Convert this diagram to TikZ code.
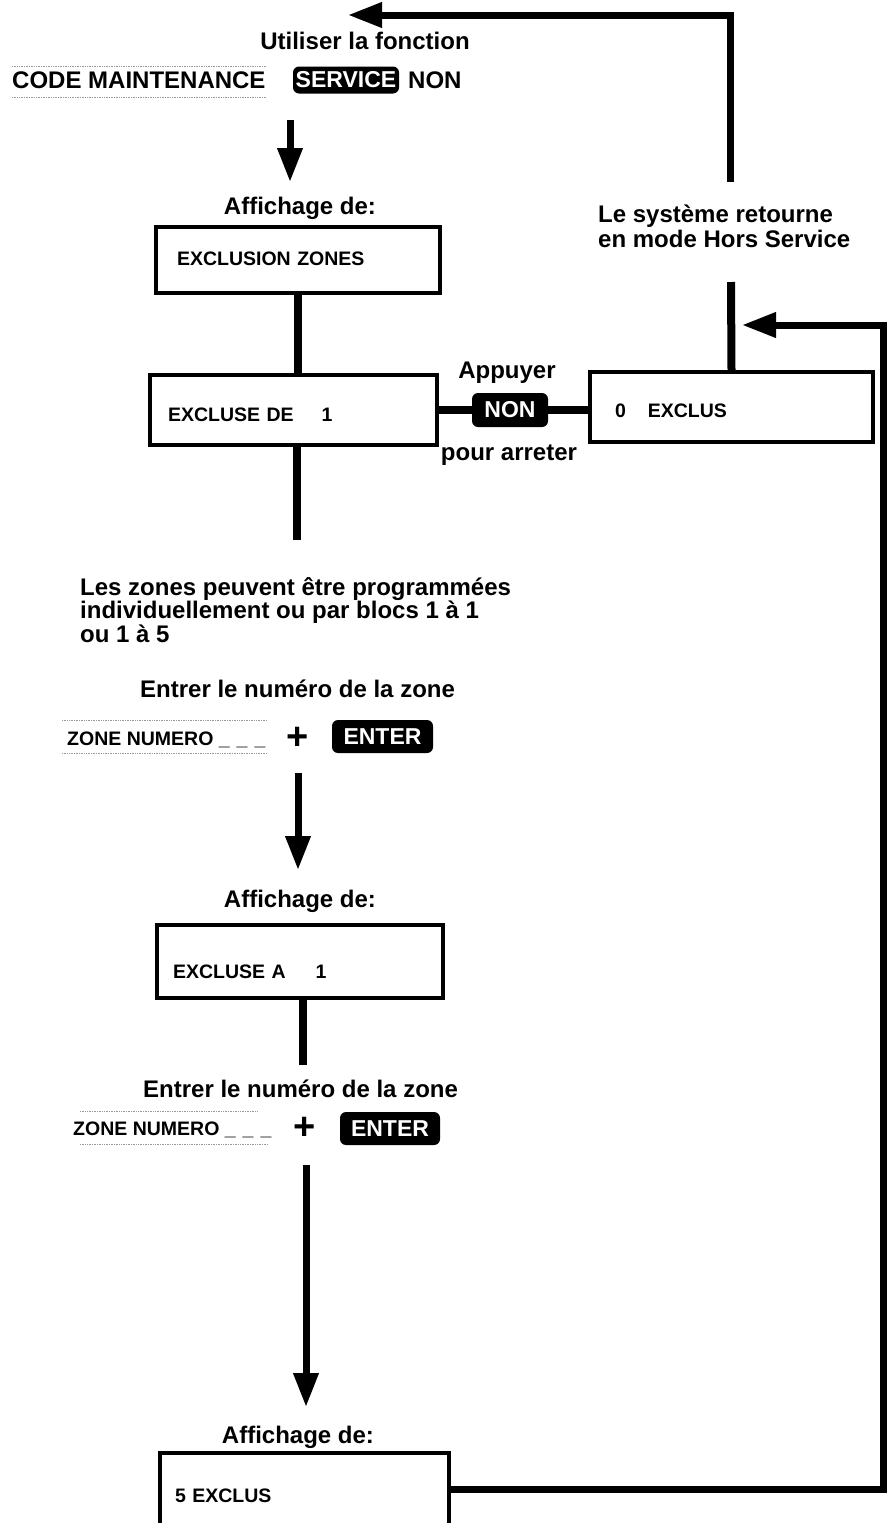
\documentclass[tikz,border=0pt]{standalone}
\usepackage{fontspec}
\setmainfont{Liberation Sans}
\usetikzlibrary{arrows.meta,positioning}
\tikzset{
    flowtext/.style={
        inner sep=0pt,
        font=\bfseries\fontsize{24}{25}\selectfont
    },
    displaytext/.style={
        inner sep=0pt,
        font=\bfseries\fontsize{19.5}{20}\selectfont
    },
    displaybox/.style={
        draw=black,
        line width=4pt,
        inner sep=0pt,
        align=left,
        font=\bfseries\fontsize{19.5}{20}\selectfont
    },
    keycap/.style={
        fill=black,
        text=white,
        rounded corners=6pt,
        inner sep=0pt,
        font=\bfseries\fontsize{23}{23}\selectfont
    },
    flowline/.style={
        draw=black,
        line width=8pt
    },
    flowarrow/.style={
        -{Triangle[length=34pt,width=24pt]},
        draw=black,
        line width=7pt
    },
    lcdedge/.style={
        draw=black!40,
        line width=0.7pt,
        densely dotted
    }
}

\begin{document}
\begin{tikzpicture}[x=1pt,y=-1pt]
    \useasboundingbox (0,0) rectangle (891,1523);

    \node[flowtext,anchor=base] (useFunction) at (365,49) {Utiliser la fonction};
    \node[flowtext,anchor=base west] (codeMaint) at (12,88) {CODE MAINTENANCE};
    \node[keycap,minimum width=106pt,minimum height=27pt] (serviceKey) at (346,80) {SERVICE};
    \node[flowtext,anchor=base west] (nonWord) at (408,88) {NON};
    \node[flowtext,anchor=base] (displayOne) at (300,214) {Affichage de:};

    \node[displaybox,minimum width=284pt,minimum height=66pt,text width=242pt,
        text height=12pt,text depth=2pt] (exclZones) at (298,260) {EXCLUSION ZONES};
    \node[displaybox,minimum width=287pt,minimum height=70pt,text width=251pt,
        text height=24pt,text depth=2pt] (exclDe) at (293.5,410) {EXCLUSE DE\hspace{28pt}1};
    \node[displaybox,minimum width=283pt,minimum height=70pt,text width=233pt,
        text height=22pt,text depth=2pt] (zeroExcl) at (731.5,407) {0\hspace{22pt}EXCLUS};

    \node[flowtext,anchor=north west,align=left] (systemReturns) at (598,205)
        {Le système retourne\\en mode Hors Service};
    \node[flowtext,anchor=base] (pressLabel) at (507,378) {Appuyer};
    \node[keycap,minimum width=76pt,minimum height=34pt] (nonKey) at (510,410) {NON};
    \node[flowtext,anchor=base] (stopLabel) at (509,460) {pour arreter};

    \node[flowtext,anchor=north west,align=left,
        font=\bfseries\fontsize{24}{23.5}\selectfont] (zoneProg) at (80,577)
        {Les zones peuvent être programmées\\individuellement ou par blocs 1 à 1\\ou 1 à 5};

    \node[flowtext,anchor=base west] (enterOne) at (140,697) {Entrer le numéro de la zone};
    \node[displaytext,anchor=base west] (zoneNumOne) at (67,745)
        {ZONE NUMERO \_\hspace{7pt}\_\hspace{7pt}\_};
    \node[flowtext,font=\bfseries\fontsize{38}{38}\selectfont] (plusOne) at (298,738) {+};
    \node[keycap,minimum width=101pt,minimum height=33pt] (enterKeyOne) at (382.5,736.5) {ENTER};

    \node[flowtext,anchor=base] (displayTwo) at (300,907) {Affichage de:};
    \node[displaybox,minimum width=286pt,minimum height=73pt,text width=254pt,
        text height=35pt,text depth=2pt] (exclA) at (300,961.5) {EXCLUSE A\hspace{30pt}1};

    \node[flowtext,anchor=base west] (enterTwo) at (143,1097) {Entrer le numéro de la zone};
    \node[displaytext,anchor=base west] (zoneNumTwo) at (73,1135)
        {ZONE NUMERO \_\hspace{7pt}\_\hspace{7pt}\_};
    \node[flowtext,font=\bfseries\fontsize{38}{38}\selectfont] (plusTwo) at (305,1128) {+};
    \node[keycap,minimum width=100pt,minimum height=33pt] (enterKeyTwo) at (390,1128.5) {ENTER};

    \node[flowtext,anchor=base] (displayThree) at (298,1443) {Affichage de:};
    \node[displaybox,draw=none,minimum width=285pt,minimum height=68pt,text width=259pt,
        text height=28pt,text depth=2pt] (fiveExcl) at (304.5,1489) {5 EXCLUS};

    \coordinate (returnFoot) at (730,182);
    \coordinate (useTip) at (348,15);
    \coordinate (arrowOneTop) at (290,120);
    \coordinate (arrowOneTip) at (290,182);
    \coordinate (zeroStub) at (731,282);
    \coordinate (exclDeStub) at (297,540);
    \coordinate (arrowTwoTop) at (298,773);
    \coordinate (arrowTwoTip) at (298,870);
    \coordinate (exclAStub) at (303,1065);
    \coordinate (arrowThreeTop) at (306,1165);
    \coordinate (arrowThreeTip) at (306,1407);
    \coordinate (loopCorner) at (883,325);
    \coordinate (loopTip) at (742,325);

    \draw[line width=4pt] (fiveExcl.south west) -- (fiveExcl.north west)
        -- (fiveExcl.north east) -- (fiveExcl.south east);

    \draw[flowarrow] (returnFoot) |- (useTip);
    \draw[flowarrow] (arrowOneTop) -- (arrowOneTip);
    \draw[flowline] (exclZones.south) -- (exclZones.south |- exclDe.north);
    \draw[flowline] (exclDe.east) -- (nonKey.west);
    \draw[flowline] (nonKey.east) -- (nonKey.east -| zeroExcl.west);
    \draw[flowline] (zeroExcl.north) -- (zeroStub);
    \draw[flowline] (exclDeStub |- exclDe.south) -- (exclDeStub);
    \draw[flowarrow] (arrowTwoTop) -- (arrowTwoTip);
    \draw[flowline] (exclAStub |- exclA.south) -- (exclAStub);
    \draw[flowarrow] (arrowThreeTop) -- (arrowThreeTip);
    \draw[flowarrow] (fiveExcl.east) -| (loopCorner) -- (loopTip);

    \draw[lcdedge] (codeMaint.west |- 0,66) -- (codeMaint.east |- 0,66);
    \draw[lcdedge] (codeMaint.west |- 0,97) -- (codeMaint.east |- 0,97);
    \draw[lcdedge] (62,720) -- (267,720);
    \draw[lcdedge] (62,753) -- (267,753);
    \draw[lcdedge] (80,1111) -- (258,1111);
    \draw[lcdedge] (80,1144) -- (268,1144);
\end{tikzpicture}
\end{document}
